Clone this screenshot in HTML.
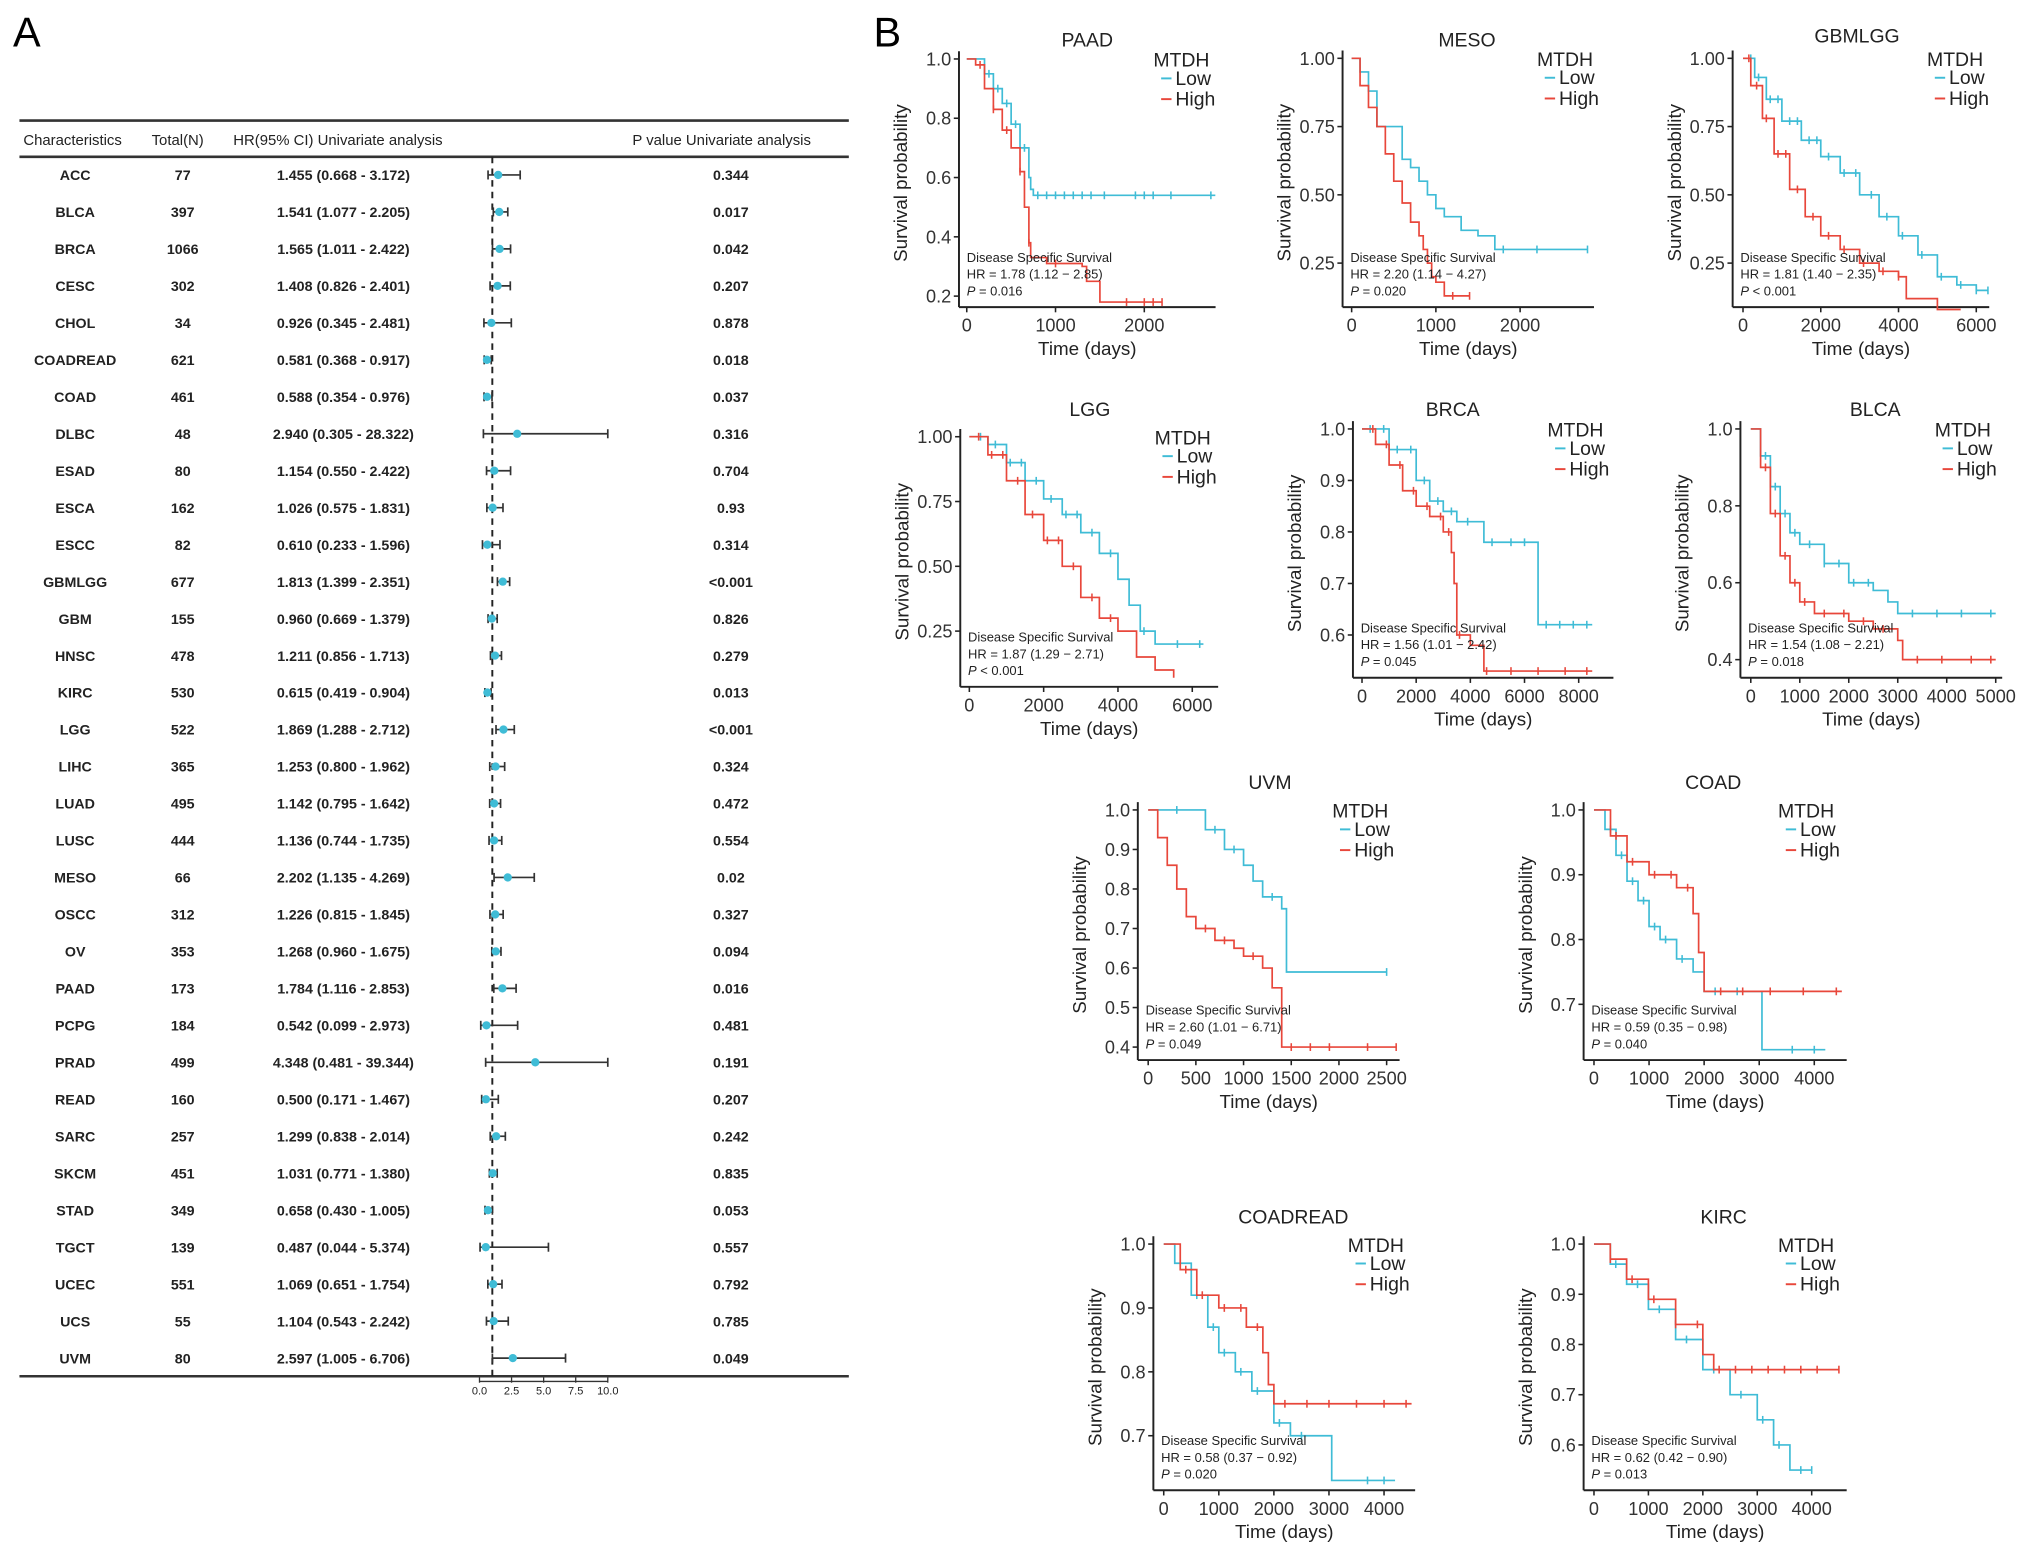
<!DOCTYPE html>
<html><head><meta charset="utf-8"><style>
html,body{margin:0;padding:0;background:#fff;}
svg{display:block;font-family:"Liberation Sans",Arial,sans-serif;}
</style></head><body>
<svg id="fig" width="2032" height="1560" viewBox="0 0 1568 1203.8" preserveAspectRatio="none" xmlns="http://www.w3.org/2000/svg">
<rect x="0" y="0" width="1568" height="1204" fill="#fff"/>
<text x="10" y="36" font-size="32">A</text>
<text x="674" y="36" font-size="32">B</text>
<g id="forest"></g>
<g id="km"></g>
</svg>
<script>
// ---------- Forest plot data ----------
const cancers=["ACC","BLCA","BRCA","CESC","CHOL","COADREAD","COAD","DLBC","ESAD","ESCA","ESCC","GBMLGG","GBM","HNSC","KIRC","LGG","LIHC","LUAD","LUSC","MESO","OSCC","OV","PAAD","PCPG","PRAD","READ","SARC","SKCM","STAD","TGCT","UCEC","UCS","UVM"];
const totals=[77,397,1066,302,34,621,461,48,80,162,82,677,155,478,530,522,365,495,444,66,312,353,173,184,499,160,257,451,349,139,551,55,80];
const hr=[1.455,1.541,1.565,1.408,0.926,0.581,0.588,2.940,1.154,1.026,0.610,1.813,0.960,1.211,0.615,1.869,1.253,1.142,1.136,2.202,1.226,1.268,1.784,0.542,4.348,0.500,1.299,1.031,0.658,0.487,1.069,1.104,2.597];
const hrLow=[0.668,1.077,1.011,0.826,0.345,0.368,0.354,0.305,0.550,0.575,0.233,1.399,0.669,0.856,0.419,1.288,0.800,0.795,0.744,1.135,0.815,0.960,1.116,0.099,0.481,0.171,0.838,0.771,0.430,0.044,0.651,0.543,1.005];
const hrHigh=[3.172,2.205,2.422,2.401,2.481,0.917,0.976,28.322,2.422,1.831,1.596,2.351,1.379,1.713,0.904,2.712,1.962,1.642,1.735,4.269,1.845,1.675,2.853,2.973,39.344,1.467,2.014,1.380,1.005,5.374,1.754,2.242,6.706];
const pvals=["0.344","0.017","0.042","0.207","0.878","0.018","0.037","0.316","0.704","0.93","0.314","<0.001","0.826","0.279","0.013","<0.001","0.324","0.472","0.554","0.02","0.327","0.094","0.016","0.481","0.191","0.207","0.242","0.835","0.053","0.557","0.792","0.785","0.049"];
const forestTicks=[0,2.5,5,7.5,10];

// ---------- KM data: [time, survival] step points ----------
const paadLow=[[0,1],[100,1],[200,0.95],[300,0.9],[400,0.85],[500,0.78],[600,0.7],[700,0.6],[720,0.56],[750,0.54],[2800,0.54]];
const paadHigh=[[0,1],[100,0.98],[200,0.9],[300,0.83],[400,0.76],[500,0.7],[600,0.62],[650,0.5],[700,0.38],[720,0.33],[900,0.31],[1300,0.3],[1350,0.25],[1500,0.18],[2200,0.18]];
const paadLowCens=[250,350,450,550,650,800,900,1000,1100,1200,1300,1400,1550,1900,2000,2100,2300,2750];
const paadHighCens=[150,300,450,600,700,1000,1800,2000,2100,2200];
const mesoLow=[[0,1],[100,0.95],[200,0.88],[300,0.75],[500,0.75],[600,0.63],[700,0.6],[800,0.55],[900,0.5],[1000,0.45],[1100,0.42],[1300,0.37],[1500,0.35],[1700,0.3],[2800,0.3]];
const mesoHigh=[[0,1],[100,0.9],[200,0.82],[300,0.75],[400,0.65],[500,0.55],[600,0.47],[700,0.4],[800,0.35],[850,0.3],[900,0.25],[950,0.2],[1000,0.18],[1100,0.13],[1400,0.13]];
const mesoLowCens=[1800,2200,2800];
const mesoHighCens=[1200,1400];
const gbmlggLow=[[0,1],[300,0.93],[600,0.85],[1000,0.77],[1500,0.7],[2000,0.64],[2500,0.58],[3000,0.5],[3500,0.42],[4000,0.35],[4500,0.28],[5000,0.2],[5500,0.17],[6000,0.15],[6300,0.15]];
const gbmlggHigh=[[0,1],[200,0.9],[500,0.78],[800,0.65],[1200,0.52],[1600,0.42],[2000,0.35],[2500,0.3],[3000,0.25],[3500,0.22],[4000,0.2],[4200,0.12],[5000,0.08],[5600,0.08]];
const gbmlggLowCens=[200,400,700,900,1200,1400,1700,1900,2200,2600,2900,3300,3700,4100,4600,5100,5600,6000,6300];
const gbmlggHighCens=[150,350,600,900,1100,1400,1800,2200,2600,3100,3600,4000];
const lggLow=[[0,1],[500,0.97],[1000,0.9],[1500,0.83],[2000,0.76],[2500,0.7],[3000,0.63],[3500,0.55],[4000,0.45],[4300,0.35],[4600,0.25],[5000,0.2],[6300,0.2]];
const lggHigh=[[0,1],[500,0.93],[1000,0.83],[1500,0.7],[2000,0.6],[2500,0.5],[3000,0.38],[3500,0.3],[4000,0.25],[4500,0.15],[5000,0.1],[5500,0.07]];
const lggLowCens=[300,700,1100,1400,1800,2200,2600,2900,3300,3800,4700,5600,6200];
const lggHighCens=[250,600,900,1300,1700,2100,2400,2800,3300,3800];
const brcaLow=[[0,1],[1000,0.96],[2000,0.9],[2500,0.86],[3000,0.84],[3500,0.82],[4500,0.78],[6400,0.78],[6500,0.62],[8500,0.62]];
const brcaHigh=[[0,1],[500,0.97],[1000,0.93],[1500,0.88],[2000,0.85],[2500,0.83],[3000,0.8],[3300,0.76],[3400,0.7],[3500,0.6],[4000,0.58],[4500,0.53],[8500,0.53]];
const brcaLowCens=[300,800,1300,1800,2300,2800,3300,3900,4800,5500,6000,6800,7300,7800,8300];
const brcaHighCens=[400,900,1400,1900,2400,2900,3200,3600,4600,5500,6500,7500,8300];
const blcaLow=[[0,1],[200,0.93],[400,0.85],[600,0.78],[800,0.73],[1000,0.7],[1500,0.65],[2000,0.6],[2500,0.58],[2800,0.55],[3000,0.52],[5000,0.52]];
const blcaHigh=[[0,1],[200,0.9],[400,0.78],[600,0.67],[800,0.6],[1000,0.55],[1300,0.52],[2000,0.5],[2500,0.48],[3000,0.45],[3100,0.4],[5000,0.4]];
const blcaLowCens=[300,500,700,900,1200,1500,1800,2100,2400,3300,3800,4300,4900];
const blcaHighCens=[300,500,700,900,1100,1500,1900,2300,2700,3400,3900,4500,4900];
const uvmLow=[[0,1],[500,1],[600,0.95],[800,0.9],[1000,0.86],[1100,0.82],[1200,0.78],[1400,0.75],[1450,0.59],[2500,0.59]];
const uvmHigh=[[0,1],[100,0.93],[200,0.86],[300,0.8],[400,0.73],[500,0.7],[700,0.67],[900,0.65],[1000,0.63],[1200,0.6],[1300,0.55],[1400,0.4],[2600,0.4]];
const uvmLowCens=[300,700,900,1300,2500];
const uvmHighCens=[600,800,1100,1500,1700,1900,2300,2600];
const coadLow=[[0,1],[200,0.97],[400,0.93],[600,0.89],[800,0.86],[1000,0.82],[1200,0.8],[1500,0.77],[1800,0.75],[2000,0.72],[3000,0.72],[3050,0.63],[4200,0.63]];
const coadHigh=[[0,1],[300,0.96],[600,0.92],[1000,0.9],[1500,0.88],[1800,0.84],[1900,0.78],[2000,0.72],[4500,0.72]];
const coadLowCens=[300,500,700,900,1100,1300,1600,2200,2600,3600,4000];
const coadHighCens=[400,700,1100,1400,1700,2300,2700,3200,3800,4400];
const coadreadLow=[[0,1],[200,0.97],[500,0.92],[800,0.87],[1000,0.83],[1300,0.8],[1600,0.77],[2000,0.72],[2300,0.7],[3000,0.7],[3050,0.63],[4200,0.63]];
const coadreadHigh=[[0,1],[300,0.96],[600,0.92],[1000,0.9],[1500,0.87],[1800,0.83],[1900,0.78],[2000,0.75],[4500,0.75]];
const coadreadLowCens=[300,600,900,1100,1400,1700,2100,2500,3700,4000];
const coadreadHighCens=[400,700,1100,1400,1700,2200,2600,3000,3500,4000,4400];
const kircLow=[[0,1],[300,0.96],[600,0.92],[1000,0.87],[1500,0.81],[2000,0.75],[2500,0.7],[3000,0.65],[3300,0.6],[3500,0.6],[3600,0.55],[4000,0.55]];
const kircHigh=[[0,1],[300,0.97],[600,0.93],[1000,0.89],[1500,0.84],[2000,0.78],[2200,0.75],[4500,0.75]];
const kircLowCens=[400,800,1200,1700,2200,2700,3100,3400,3800,4000];
const kircHighCens=[300,700,1100,1500,1900,2300,2600,2900,3200,3500,3800,4100,4500];

const NS="http://www.w3.org/2000/svg";
function mk(tag,attrs,parent,txt){const e=document.createElementNS(NS,tag);for(const k in attrs)e.setAttribute(k,attrs[k]);if(txt!==undefined)e.textContent=txt;parent.appendChild(e);return e;}
const CYAN="#3fbcd6", RED="#e8473b";

// ---------- Forest ----------
(function(){
  const g=document.getElementById('forest');
  const row0=135, dy=(1048-135)/32;
  const fx=v=>370+Math.min(v,10)*9.9;
  let l=mk('line',{x1:15,x2:655,y1:93,y2:93,stroke:'#333','stroke-width':2},g);
  
  l=mk('line',{x1:15,x2:655,y1:121,y2:121,stroke:'#333','stroke-width':2},g);
  
  l=mk('line',{x1:15,x2:655,y1:1062,y2:1062,stroke:'#333','stroke-width':2},g);
  
  const hdr=[[18,'Characteristics'],[117,'Total(N)'],[180,'HR(95% CI) Univariate analysis'],[488,'P value Univariate analysis']];
  hdr.forEach(h=>{const t=mk('text',{x:h[0],y:112,'font-size':11.5,fill:'#222'},g,h[1]);
    });
  l=mk('line',{x1:fx(1),x2:fx(1),y1:121,y2:1062,stroke:'#222','stroke-width':1.5,'stroke-dasharray':'5,4'},g);
  
  cancers.forEach((c,i)=>{
    const y=row0+i*dy;
    let t=mk('text',{x:58,y:y+4,'font-size':11,'text-anchor':'middle',fill:'#222','font-weight':'bold'},g,c);
    
    t=mk('text',{x:141,y:y+4,'font-size':11,'text-anchor':'middle',fill:'#222','font-weight':'bold'},g,String(totals[i]));
    
    t=mk('text',{x:265,y:y+4,'font-size':11,'text-anchor':'middle',fill:'#222','font-weight':'bold'},g,hr[i].toFixed(3)+' ('+hrLow[i].toFixed(3)+' - '+hrHigh[i].toFixed(3)+')');
    
    t=mk('text',{x:564,y:y+4,'font-size':11,'text-anchor':'middle',fill:'#222','font-weight':'bold'},g,pvals[i]);
    
    const x1=fx(hrLow[i]),x2=fx(hrHigh[i]);
    const bar=mk('g',{},g);
    
    mk('line',{x1:x1,x2:x2,y1:y,y2:y,stroke:'#333','stroke-width':1.3},bar);
    mk('line',{x1:x1,x2:x1,y1:y-3.5,y2:y+3.5,stroke:'#333','stroke-width':1.3},bar);
    mk('line',{x1:x2,x2:x2,y1:y-3.5,y2:y+3.5,stroke:'#333','stroke-width':1.3},bar);
    const pt=mk('circle',{cx:fx(hr[i]),cy:y,r:3.2,fill:CYAN},g);
    
  });
  l=mk('line',{x1:fx(0),x2:fx(10),y1:1066,y2:1066,stroke:'#333','stroke-width':1},g);
  
  forestTicks.forEach(v=>{
    mk('line',{x1:fx(v),x2:fx(v),y1:1063,y2:1067,stroke:'#333','stroke-width':1},g);
    const t=mk('text',{x:fx(v),y:1076,'font-size':8.5,'text-anchor':'middle',fill:'#222'},g,v.toFixed(1));
    
  });
})();

// ---------- KM panels ----------
const panels=[
 {name:'PAAD',ax:740,ay:237,x0:746,k:68.5,right:938,yTop:45.5,vTop:1,ppu:228.75,yt:[1,0.8,0.6,0.4,0.2],dec:1,xt:[0,1000,2000],title:[839,31],hrT:'1.78 (1.12 − 2.85)',pT:'= 0.016',low:paadLow,high:paadHigh,lc:paadLowCens,hc:paadHighCens},
 {name:'MESO',ax:1036,ay:237,x0:1043,k:65,right:1230,yTop:45,vTop:1,ppu:210.7,yt:[1,0.75,0.5,0.25],dec:2,xt:[0,1000,2000],title:[1132,31],hrT:'2.20 (1.14 − 4.27)',pT:'= 0.020',low:mesoLow,high:mesoHigh,lc:mesoLowCens,hc:mesoHighCens},
 {name:'GBMLGG',ax:1337,ay:237,x0:1345,k:30,right:1535,yTop:45,vTop:1,ppu:210.7,yt:[1,0.75,0.5,0.25],dec:2,xt:[0,2000,4000,6000],title:[1433,28],hrT:'1.81 (1.40 − 2.35)',pT:'< 0.001',low:gbmlggLow,high:gbmlggHigh,lc:gbmlggLowCens,hc:gbmlggHighCens},
 {name:'LGG',ax:741,ay:530,x0:748,k:28.67,right:940,yTop:337,vTop:1,ppu:200,yt:[1,0.75,0.5,0.25],dec:2,xt:[0,2000,4000,6000],title:[841,316],hrT:'1.87 (1.29 − 2.71)',pT:'< 0.001',low:lggLow,high:lggHigh,lc:lggLowCens,hc:lggHighCens},
 {name:'BRCA',ax:1044,ay:523,x0:1051,k:20.9,right:1245,yTop:331,vTop:1,ppu:397.5,yt:[1,0.9,0.8,0.7,0.6],dec:1,xt:[0,2000,4000,6000,8000],title:[1121,316],hrT:'1.56 (1.01 − 2.42)',pT:'= 0.045',low:brcaLow,high:brcaHigh,lc:brcaLowCens,hc:brcaHighCens},
 {name:'BLCA',ax:1343,ay:523,x0:1351,k:37.8,right:1545,yTop:331,vTop:1,ppu:296.7,yt:[1,0.8,0.6,0.4],dec:1,xt:[0,1000,2000,3000,4000,5000],title:[1447,316],hrT:'1.54 (1.08 − 2.21)',pT:'= 0.018',low:blcaLow,high:blcaHigh,lc:blcaLowCens,hc:blcaHighCens},
 {name:'UVM',ax:878,ay:818,x0:886,k:73.6,right:1080,yTop:625,vTop:1,ppu:305,yt:[1,0.9,0.8,0.7,0.6,0.5,0.4],dec:1,xt:[0,500,1000,1500,2000,2500],title:[980,604],hrT:'2.60 (1.01 − 6.71)',pT:'= 0.049',low:uvmLow,high:uvmHigh,lc:uvmLowCens,hc:uvmHighCens},
 {name:'COAD',ax:1222,ay:818,x0:1230,k:42.5,right:1425,yTop:625,vTop:1,ppu:500,yt:[1,0.9,0.8,0.7],dec:1,xt:[0,1000,2000,3000,4000],title:[1322,604],hrT:'0.59 (0.35 − 0.98)',pT:'= 0.040',low:coadLow,high:coadHigh,lc:coadLowCens,hc:coadHighCens},
 {name:'COADREAD',ax:890,ay:1150,x0:898,k:42.5,right:1092,yTop:960,vTop:1,ppu:493,yt:[1,0.9,0.8,0.7],dec:1,xt:[0,1000,2000,3000,4000],title:[998,939],hrT:'0.58 (0.37 − 0.92)',pT:'= 0.020',low:coadreadLow,high:coadreadHigh,lc:coadreadLowCens,hc:coadreadHighCens},
 {name:'KIRC',ax:1222,ay:1150,x0:1230,k:42,right:1425,yTop:960,vTop:1,ppu:387.5,yt:[1,0.9,0.8,0.7,0.6],dec:1,xt:[0,1000,2000,3000,4000],title:[1330,939],hrT:'0.62 (0.42 − 0.90)',pT:'= 0.013',low:kircLow,high:kircHigh,lc:kircLowCens,hc:kircHighCens}
];
function survAt(curve,t){let s=curve[0][1];for(const p of curve){if(p[0]<=t)s=p[1];}return s;}
(function(){
  const root=document.getElementById('km');
  panels.forEach(P=>{
    const g=mk('g',{},root);
    
    
    const X=t=>P.x0+t*P.k/1000, Y=v=>P.yTop+(P.vTop-v)*P.ppu;
    let t=mk('text',{x:P.title[0],y:P.title[1]+5,'font-size':15,'text-anchor':'middle',fill:'#222'},g,P.name);
    
    let a=mk('line',{x1:P.ax,x2:P.ax,y1:P.yTop-6,y2:P.ay,stroke:'#222','stroke-width':1.5},g);
    
    a=mk('line',{x1:P.ax,x2:P.right,y1:P.ay,y2:P.ay,stroke:'#222','stroke-width':1.5},g);
    
    P.yt.forEach(v=>{
      mk('line',{x1:P.ax-4,x2:P.ax,y1:Y(v),y2:Y(v),stroke:'#222','stroke-width':1.2},g);
      const tl=mk('text',{x:P.ax-6,y:Y(v)+5,'font-size':14,'text-anchor':'end',fill:'#333'},g,v.toFixed(P.dec));
      
    });
    P.xt.forEach(v=>{
      mk('line',{x1:X(v),x2:X(v),y1:P.ay,y2:P.ay+4,stroke:'#222','stroke-width':1.2},g);
      const tl=mk('text',{x:X(v),y:P.ay+19,'font-size':14,'text-anchor':'middle',fill:'#333'},g,String(v));
      
    });
    t=mk('text',{x:(P.ax+P.right)/2,y:P.ay+37,'font-size':14.5,'text-anchor':'middle',fill:'#222'},g,'Time (days)');
    
    const cy=(P.yTop+P.ay)/2, lx=P.ax-40;
    t=mk('text',{x:lx,y:cy,'font-size':14.5,'text-anchor':'middle',fill:'#222',transform:'rotate(-90 '+lx+' '+cy+')'},g,'Survival probability');
    
    [[P.low,P.lc,CYAN,'low'],[P.high,P.hc,RED,'high']].forEach(S=>{
      const c=S[0];let d='M'+X(c[0][0])+' '+Y(c[0][1]);
      for(let i=1;i<c.length;i++){d+=' H'+X(c[i][0])+' V'+Y(c[i][1]);}
      const p=mk('path',{d:d,fill:'none',stroke:S[2],'stroke-width':1.3},g);
      
      S[1].forEach(tt=>{
        const yy=Y(survAt(c,tt));
        const m=mk('line',{x1:X(tt),x2:X(tt),y1:yy-3,y2:yy+3,stroke:S[2],'stroke-width':1.2},g);
        
      });
    });
    const lg=mk('g',{},g);
    
    const lx0=P.ax+150, ly=P.yTop+6;
    mk('text',{x:lx0,y:ly,'font-size':15,fill:'#222'},lg,'MTDH');
    mk('line',{x1:lx0+6,x2:lx0+14,y1:ly+9,y2:ly+9,stroke:CYAN,'stroke-width':1.5},lg);
    let e=mk('text',{x:lx0+17,y:ly+14,'font-size':15,fill:'#222'},lg,'Low');
    
    mk('line',{x1:lx0+6,x2:lx0+14,y1:ly+25,y2:ly+25,stroke:RED,'stroke-width':1.5},lg);
    e=mk('text',{x:lx0+17,y:ly+30,'font-size':15,fill:'#222'},lg,'High');
    
    const an=mk('g',{'font-size':10,fill:'#222'},g);
    
    mk('text',{x:P.ax+6,y:P.ay-35},an,'Disease Specific Survival');
    mk('text',{x:P.ax+6,y:P.ay-22},an,'HR = '+P.hrT);
    const pt=mk('text',{x:P.ax+6,y:P.ay-9},an);
    mk('tspan',{'font-style':'italic'},pt,'P');
    mk('tspan',{},pt,' '+P.pT);
  });
})();
</script>
</body></html>
